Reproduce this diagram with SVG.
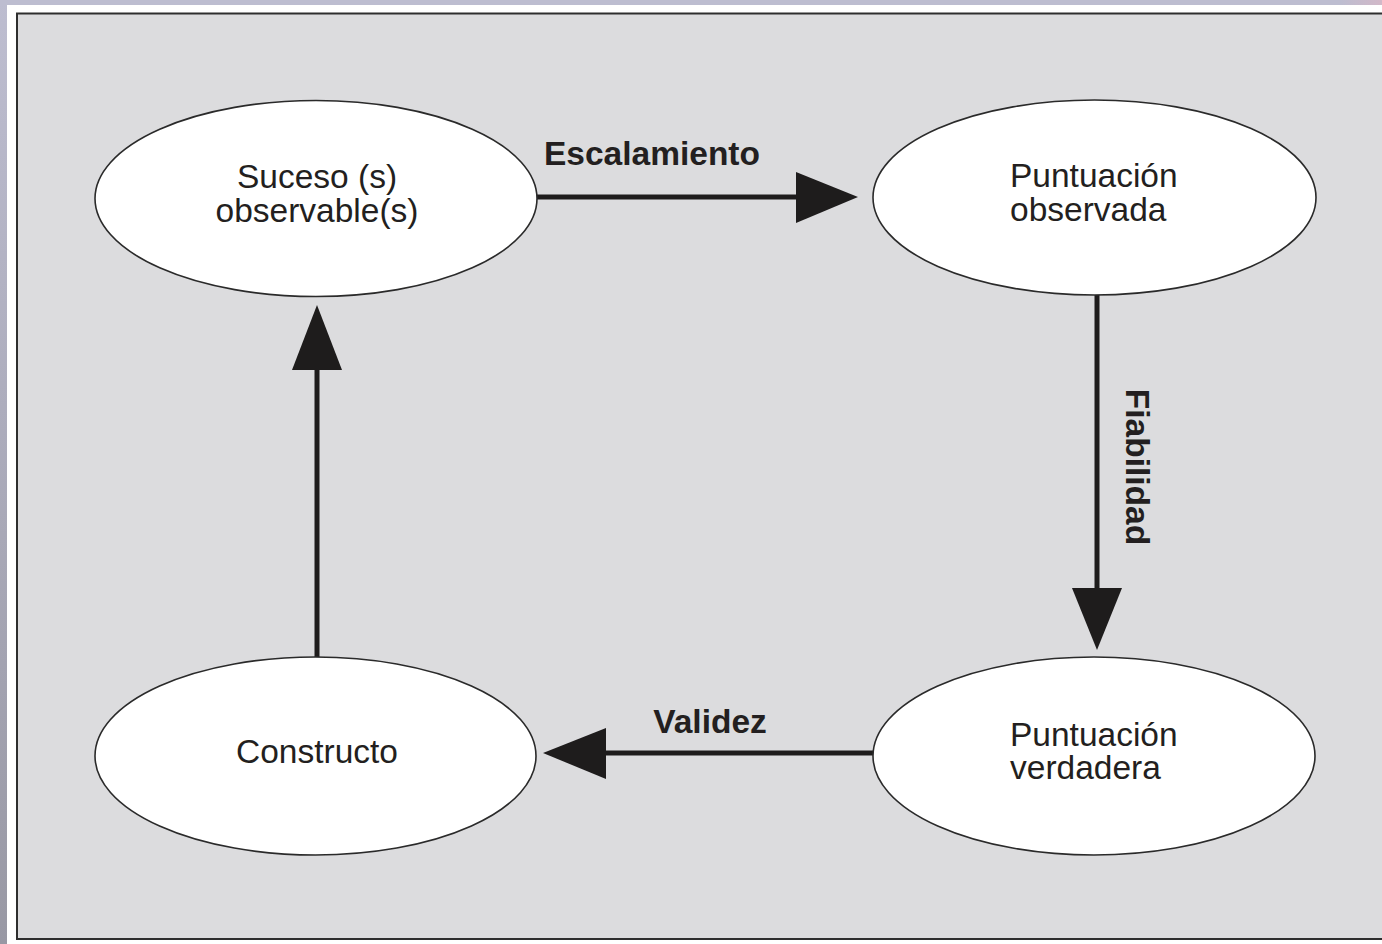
<svg xmlns="http://www.w3.org/2000/svg" width="1382" height="944" viewBox="0 0 1382 944">
  <defs>
    <linearGradient id="side" x1="0" y1="0" x2="0" y2="1">
      <stop offset="0" stop-color="#bdbdd0"/>
      <stop offset="1" stop-color="#9898a4"/>
    </linearGradient>
    <linearGradient id="topstrip" x1="0" y1="0" x2="1" y2="0">
      <stop offset="0" stop-color="#bdbdd0"/>
      <stop offset="0.97" stop-color="#bdbdd0"/>
      <stop offset="1" stop-color="#d2b8c8"/>
    </linearGradient>
    <style>
      .node { fill: #ffffff; stroke: #2a2a2a; stroke-width: 1.6; }
      .lbl { font-family: "Liberation Sans", Arial, sans-serif; font-size: 33.5px; fill: #231f20; text-anchor: middle; }
      .lft { text-anchor: start; }
      .edge { font-family: "Liberation Sans", Arial, sans-serif; font-size: 33.5px; font-weight: bold; fill: #231f20; text-anchor: middle; }
      .line { stroke: #1e1c1c; stroke-width: 5; fill: none; }
      .head { fill: #1e1c1c; }
    </style>
  </defs>

  <!-- background frame -->
  <rect x="0" y="0" width="1382" height="944" fill="url(#side)"/>
  <rect x="0" y="0" width="1382" height="5" fill="url(#topstrip)"/>
  <rect x="7" y="5" width="1375" height="939" fill="#ffffff"/>
  <rect x="17" y="13.5" width="1380" height="925.5" fill="#dcdcde" stroke="#2e2e2e" stroke-width="2"/>

  <!-- connectors -->
  <g id="connectors">
    <g id="e-escalamiento">
      <line class="line" x1="537" y1="197" x2="798" y2="197"/>
      <polygon class="head" points="796,172 858,197 796,223"/>
      <text class="edge" x="652" y="165">Escalamiento</text>
    </g>
    <g id="e-fiabilidad">
      <line class="line" x1="1097" y1="295" x2="1097" y2="590"/>
      <polygon class="head" points="1072,588 1122,588 1097,650"/>
      <text class="edge" transform="translate(1126,467) rotate(90)" x="0" y="0">Fiabilidad</text>
    </g>
    <g id="e-validez">
      <line class="line" x1="873" y1="753" x2="604" y2="753"/>
      <polygon class="head" points="606,728 543,753 606,779"/>
      <text class="edge" x="710" y="733">Validez</text>
    </g>
    <g id="e-constructo-suceso">
      <line class="line" x1="317" y1="657" x2="317" y2="368"/>
      <polygon class="head" points="292,370 342,370 317,305"/>
    </g>
  </g>

  <!-- nodes -->
  <g id="n-suceso">
    <ellipse class="node" cx="316" cy="198.5" rx="221" ry="98"/>
    <text class="lbl" x="317" y="188">Suceso (s)</text>
    <text class="lbl" x="317" y="222">observable(s)</text>
  </g>
  <g id="n-observada">
    <ellipse class="node" cx="1094.5" cy="197.5" rx="221.5" ry="97.5"/>
    <text class="lbl lft" x="1010" y="187">Puntuación</text>
    <text class="lbl lft" x="1010" y="221">observada</text>
  </g>
  <g id="n-verdadera">
    <ellipse class="node" cx="1094" cy="756" rx="221" ry="99"/>
    <text class="lbl lft" x="1010" y="746">Puntuación</text>
    <text class="lbl lft" x="1010" y="779">verdadera</text>
  </g>
  <g id="n-constructo">
    <ellipse class="node" cx="315.5" cy="756" rx="220.5" ry="99"/>
    <text class="lbl" x="317" y="763">Constructo</text>
  </g>
</svg>
